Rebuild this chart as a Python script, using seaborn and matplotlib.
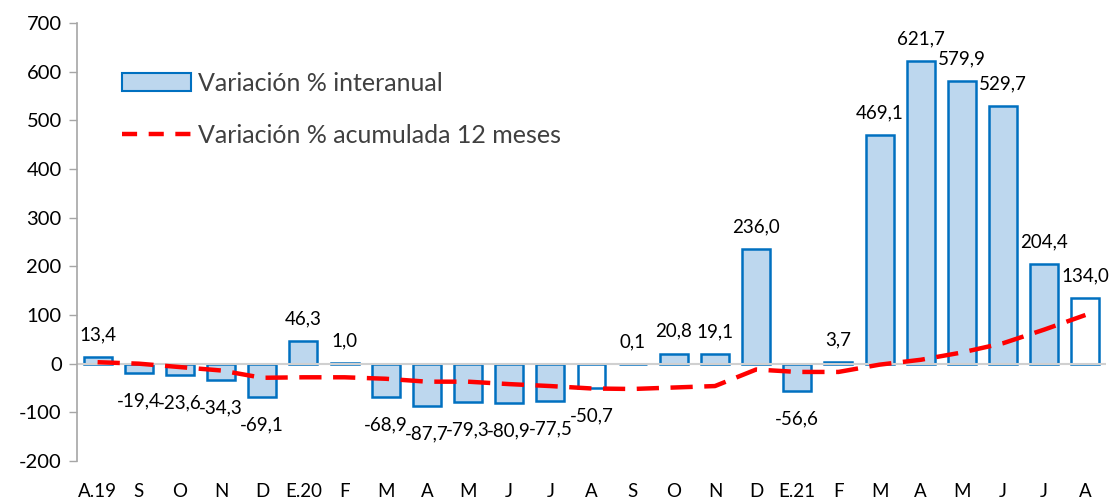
import matplotlib
matplotlib.use("Agg")
import matplotlib.pyplot as plt
import seaborn as sns
import pandas as pd
from matplotlib.patches import Patch
from matplotlib.lines import Line2D

categories = ["A.19", "S", "O", "N", "D", "E.20", "F", "M", "A", "M", "J", "J",
              "A", "S", "O", "N", "D", "E.21", "F", "M", "A", "M", "J", "J", "A"]
interanual = [13.4, -19.4, -23.6, -34.3, -69.1, 46.3, 1.0, -68.9, -87.7, -79.3, -80.9, -77.5,
              -50.7, 0.1, 20.8, 19.1, 236.0, -56.6, 3.7, 469.1, 621.7, 579.9, 529.7, 204.4, 134.0]
acumulada = [3, 0, -7, -14, -29, -28, -28, -31, -37, -37, -42, -46,
             -51, -52, -49, -46, -12, -17, -17, -2, 8, 23, 42, 70, 100]
white_bars = [12, 24]

sns.set_theme(style="white")
plt.rcParams['font.family'] = ['Lato', 'DejaVu Sans']
plt.rcParams['text.color'] = 'black'
plt.rcParams['xtick.color'] = 'black'
plt.rcParams['ytick.color'] = 'black'

BLUE_FILL = "#BDD7EE"
BLUE_EDGE = "#0070C0"

df = pd.DataFrame({"key": [f"{i:02d}" for i in range(len(categories))],
                   "val": interanual})
palette = ["white" if i in white_bars else BLUE_FILL for i in range(len(categories))]

fig = plt.figure(figsize=(11.12, 4.98), dpi=100)
ax = fig.add_axes([77/1112, 1-461/498, (1106-77)/1112, (461-23)/498])

sns.barplot(data=df, x="key", y="val", hue="key", palette=palette, legend=False,
            width=0.68, edgecolor=BLUE_EDGE, linewidth=1.8, ax=ax, saturation=1)

sns.lineplot(x=list(range(len(acumulada))), y=acumulada, ax=ax, color="#FF0000",
             linewidth=3.2, dashes=False, zorder=5)
ax.lines[-1].set_dashes([5, 2.6])
ax.lines[-1].set_dash_capstyle("butt")

ax.axhline(0, color="#D0D0D0", linewidth=1.5, zorder=1)

ax.set_xlim(-0.5, len(categories) - 0.5)
ax.set_ylim(-200, 700)
ax.set_yticks(range(-200, 701, 100))
ax.set_yticklabels([str(v) for v in range(-200, 701, 100)], fontsize=14.5)
ax.set_xticks(range(len(categories)))
ax.set_xticklabels(categories, fontsize=13.5)
ax.tick_params(axis="x", length=0, pad=16, colors="black")
ax.tick_params(axis="y", length=6, width=1, color="#A6A6A6", labelcolor="black",
               direction="out", left=True, pad=5)
ax.set_xlabel("")
ax.set_ylabel("")
for s in ["top", "right", "bottom"]:
    ax.spines[s].set_visible(False)
ax.spines["left"].set_color("#A6A6A6")
ax.spines["left"].set_linewidth(1.2)

for i, v in enumerate(interanual):
    lbl = f"{v:.1f}".replace(".", ",")
    off = 16 if v >= 0 else -20
    ax.annotate(lbl, (i, v), xytext=(0, off), textcoords="offset points",
                ha="center", va="center", fontsize=13.5, color="black")

handles = [Patch(facecolor=BLUE_FILL, edgecolor=BLUE_EDGE, linewidth=1.5),
           Line2D([0], [0], color="#FF0000", linewidth=3.2, dashes=[3.4, 2.6])]
leg = ax.legend(handles, ["Variación % interanual", "Variación % acumulada 12 meses"],
                loc="upper left", bbox_to_anchor=(122/1112, 1-72/498),
                bbox_transform=fig.transFigure, frameon=False, fontsize=18,
                handlelength=2.75, handletextpad=0.3, labelspacing=1.15,
                borderpad=0, borderaxespad=0)
for t in leg.get_texts():
    t.set_color("#404040")

fig.savefig("out.png", dpi=100)
